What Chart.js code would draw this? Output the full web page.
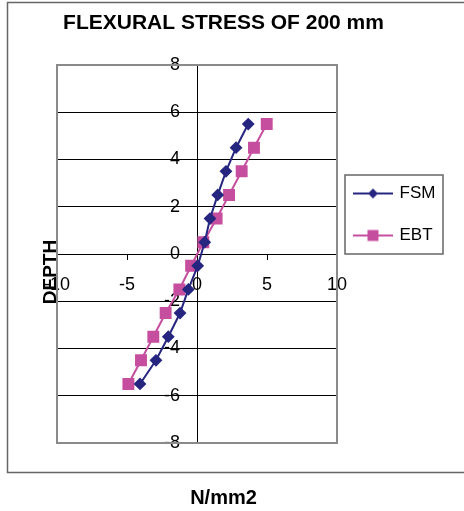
<!DOCTYPE html>
<html>
<head>
<meta charset="utf-8">
<title>Flexural stress of 200 mm</title>
<script src="https://cdn.jsdelivr.net/npm/chart.js@4.4.1/dist/chart.umd.min.js"></script>
<style>
  html, body { margin: 0; padding: 0; background: #fff; }
  #wrap { position: relative; width: 464px; height: 511px; }
</style>
</head>
<body>
<div id="wrap"><canvas id="stressChart"></canvas></div>
<script>
const depth = [5.5, 4.5, 3.5, 2.5, 1.5, 0.5, -0.5, -1.5, -2.5, -3.5, -4.5, -5.5];
const fsm = [3.66, 2.79, 2.07, 1.48, 0.93, 0.55, 0.05, -0.62, -1.21, -2.05, -2.93, -4.07];
const ebt = [4.98, 4.07, 3.19, 2.29, 1.40, 0.45, -0.42, -1.26, -2.24, -3.12, -4.00, -4.90];
const seriesNames = ["FSM", "EBT"];

const FONT = "'Liberation Sans', Arial, sans-serif";
const NAVY = "#262680";
const PINK = "#c64e9f";

function points(xs) {
  return xs.map((x, i) => ({ x: x, y: depth[i] }));
}

// little "line with marker" swatch for the legend
function swatch(color, shape) {
  const c = document.createElement("canvas");
  c.width = 40;
  c.height = 16;
  const g = c.getContext("2d");
  g.strokeStyle = color;
  g.fillStyle = color;
  g.lineWidth = 2;
  g.beginPath();
  g.moveTo(0, 8);
  g.lineTo(40, 8);
  g.stroke();
  g.beginPath();
  if (shape === "diamond") {
    g.moveTo(20, 3); g.lineTo(25, 8); g.lineTo(20, 13); g.lineTo(15, 8);
    g.closePath();
  } else {
    g.rect(14.5, 2.5, 11, 11);
  }
  g.fill();
  return c;
}
const swatches = [swatch(NAVY, "diamond"), swatch(PINK, "square")];

// frames, legend placement and the vertical axis title
const sheetDecor = {
  id: "sheetDecor",
  afterLayout(chart) {
    // keep the legend in a small box beside the plot instead of spanning its height
    const lg = chart.legend;
    lg.left = 330; lg.right = 464; lg.width = 134;
    lg.top = 160; lg.bottom = 330; lg.height = 170;
  },
  afterDraw(chart) {
    const ctx = chart.ctx;
    const a = chart.chartArea;
    ctx.save();
    // outer chart frame
    ctx.strokeStyle = "#666";
    ctx.lineWidth = 1.5;
    ctx.beginPath();
    ctx.moveTo(470, 2.5);
    ctx.lineTo(7.5, 2.5);
    ctx.lineTo(7.5, 472.5);
    ctx.lineTo(470, 472.5);
    ctx.stroke();
    // plot area border
    ctx.strokeStyle = "#8a8a8a";
    ctx.lineWidth = 2;
    ctx.strokeRect(a.left, a.top, a.right - a.left, a.bottom - a.top);
    // legend border
    ctx.strokeStyle = "#666";
    ctx.lineWidth = 1.5;
    ctx.strokeRect(345, 175, 98, 79);
    // axis title
    ctx.translate(51, 272);
    ctx.rotate(-Math.PI / 2);
    ctx.fillStyle = "#000";
    ctx.font = "bold 19px " + FONT;
    ctx.textAlign = "center";
    ctx.textBaseline = "middle";
    ctx.fillText("DEPTH", 0, 0);
    ctx.restore();
  }
};

const ctx = document.getElementById("stressChart").getContext("2d");
const chart = new Chart(ctx, {
  type: "scatter",
  data: {
    datasets: [{
      label: seriesNames[0],
      data: points(fsm),
      showLine: true,
      borderColor: NAVY,
      backgroundColor: NAVY,
      borderWidth: 2,
      pointStyle: "rectRot",
      pointRadius: 5,
      pointHoverRadius: 5,
      tension: 0
    }, {
      label: seriesNames[1],
      data: points(ebt),
      showLine: true,
      borderColor: PINK,
      backgroundColor: PINK,
      borderWidth: 2,
      pointStyle: "rect",
      pointRadius: 7,
      pointHoverRadius: 7,
      tension: 0
    }]
  },
  options: {
    responsive: true,
    maintainAspectRatio: false,
    animation: false,
    layout: { padding: { left: 57, right: 74, top: 0, bottom: 0 } },
    scales: {
      x: {
        type: "linear",
        position: { y: 0 },
        min: -10,
        max: 10,
        ticks: { stepSize: 5, color: "#000", padding: 15, font: { family: FONT, size: 18 } },
        grid: { drawOnChartArea: false, drawTicks: true, tickLength: 5, color: "#000" },
        border: { color: "#000", width: 1 }
      },
      y: {
        type: "linear",
        // x runs -10..10, so the middle of the plot is x = 0
        position: "center",
        min: -8,
        max: 8,
        ticks: { stepSize: 2, color: "#000", padding: 12, font: { family: FONT, size: 18 } },
        grid: { color: "#000", lineWidth: 1, drawTicks: true, tickLength: 5 },
        border: { color: "#000", width: 1 }
      }
    },
    plugins: {
      title: {
        display: true,
        text: "FLEXURAL STRESS OF 200 mm",
        color: "#000",
        font: { family: FONT, size: 21, weight: "bold" },
        padding: { top: 10.4, bottom: 29.4 }
      },
      subtitle: {
        display: true,
        position: "bottom",
        text: "N/mm2",
        color: "#000",
        font: { family: FONT, size: 20, weight: "bold" },
        padding: { top: 43, bottom: 1 }
      },
      legend: {
        position: "right",
        align: "start",
        fullSize: false,
        maxWidth: 53,
        labels: {
          color: "#000",
          font: { family: FONT, size: 17 },
          padding: 25,
          usePointStyle: true,
          pointStyleWidth: 36,
          generateLabels(chart) {
            const items = Chart.defaults.plugins.legend.labels.generateLabels(chart);
            items.forEach((it, i) => { it.pointStyle = swatches[i]; });
            return items;
          }
        }
      },
      tooltip: { enabled: false }
    }
  },
  plugins: [sheetDecor]
});
</script>
</body>
</html>
